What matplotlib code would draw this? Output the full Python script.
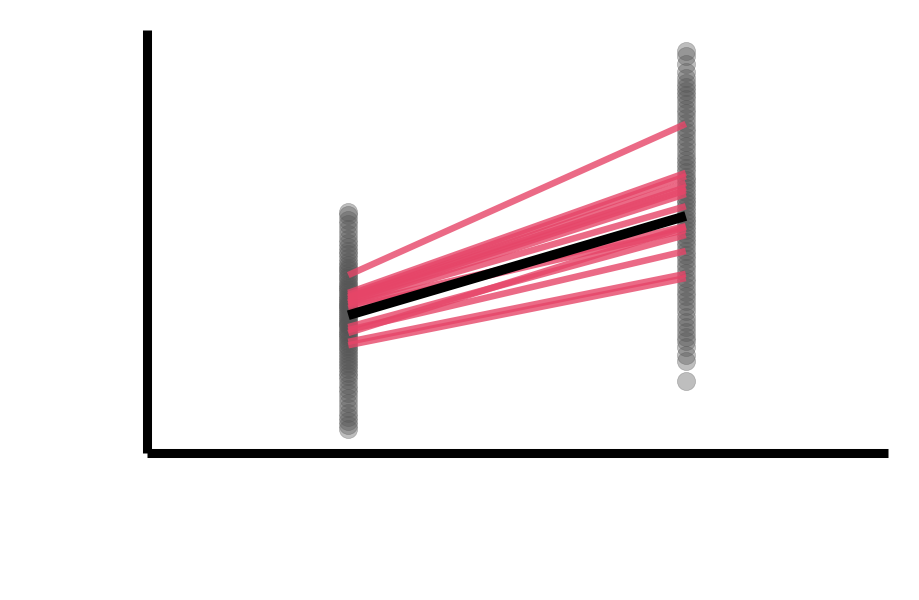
import matplotlib
matplotlib.use("Agg")
import matplotlib.pyplot as plt

# two conditions, paired
conditions = [0, 1]

before = [56.9, 56.2, 55.0, 54.1, 53.0, 51.8, 50.6, 49.5, 48.6, 47.7,
          46.9, 46.0, 45.2, 44.5, 43.8, 43.1, 42.4, 41.8, 41.2, 40.6,
          40.0, 39.4, 38.9, 38.4, 37.9, 37.4, 36.9, 36.4, 35.9, 35.5,
          35.0, 34.6, 34.1, 33.7, 33.2, 32.8, 32.3, 31.9, 31.4, 31.0,
          30.5, 30.1, 29.6, 29.1, 28.6, 28.1, 27.6, 27.1, 26.5, 25.9,
          25.3, 24.7, 24.1, 23.4, 22.7, 22.0, 21.3, 20.5, 19.7, 18.9,
          18.0, 17.1, 16.1, 15.1, 14.0, 12.9, 11.8, 10.6, 9.4, 8.3,
          7.5, 6.6, 5.6]
after = [95.0, 93.8, 92.0, 90.1, 88.6, 87.4, 86.5, 85.6, 84.6, 83.6,
         82.5, 81.4, 80.3, 79.1, 78.0, 76.9, 75.8, 74.7, 73.6, 72.5,
         71.4, 70.3, 69.3, 68.3, 67.3, 66.3, 65.3, 64.4, 63.5, 62.6,
         61.7, 60.8, 59.9, 59.0, 58.1, 57.2, 56.3, 55.4, 54.5, 53.6,
         52.7, 51.8, 50.8, 49.8, 48.8, 47.8, 46.8, 45.8, 44.7, 43.6,
         42.5, 41.4, 40.3, 39.2, 38.1, 37.0, 35.8, 34.6, 33.4, 32.2,
         31.0, 29.8, 28.6, 27.4, 26.3, 25.0, 23.2, 21.7, 16.9]

# resampled means (start, end)
boot_start = [42.0, 37.8, 37.3, 36.8, 36.6, 36.1, 35.6, 35.4, 34.9, 34.2,
              29.7, 29.0, 28.3, 26.2, 25.4]
boot_end = [77.8, 66.2, 65.4, 63.8, 62.8, 62.1, 61.2, 58.3, 53.6, 52.7,
            51.5, 47.7, 53.4, 42.3, 41.3]

mean_line = [32.5, 56.0]

fig = plt.figure(figsize=(9.19, 6), dpi=100)
ax = fig.add_axes([0.1605, 0.2458, 0.806, 0.704])

ax.scatter([conditions[0]] * len(before), before, s=170, color="#555555",
           alpha=0.38, linewidths=0.5, zorder=1)
ax.scatter([conditions[1]] * len(after), after, s=170, color="#555555",
           alpha=0.38, linewidths=0.5, zorder=1)

for a, b in zip(boot_start, boot_end):
    ax.plot(conditions, [a, b], color="#e64568", alpha=0.8, lw=4.7,
            solid_capstyle="butt", zorder=2)

ax.plot(conditions, mean_line, color="black", lw=7, solid_capstyle="butt", zorder=3)

ax.set_xlim(-0.595, 1.6)
ax.set_ylim(0, 100)
ax.set_xticks([])
ax.set_yticks([])
for side in ["top", "right"]:
    ax.spines[side].set_visible(False)
for side in ["left", "bottom"]:
    ax.spines[side].set_linewidth(6.5)
    ax.spines[side].set_capstyle("butt")

fig.savefig("out.png", dpi=100)
